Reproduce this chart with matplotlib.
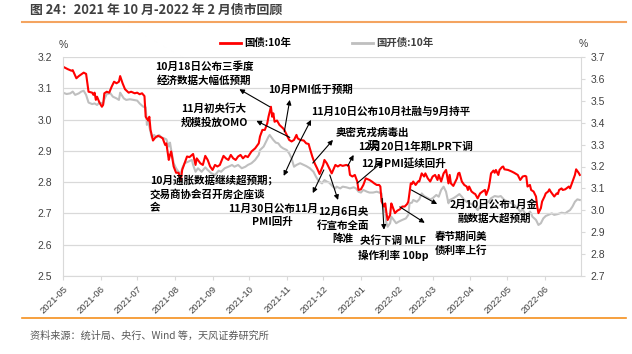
import numpy as np
import pandas as pd
import matplotlib
matplotlib.use('Agg')
import matplotlib.pyplot as plt
from matplotlib.lines import Line2D

plt.rcParams['font.family'] = ['Noto Sans CJK SC', 'DejaVu Sans']

# ---------------- data ----------------
BASE = pd.Timestamp('2021-05-01')   # day offsets below are counted from this date

red_days = [0, 4, 7, 8, 11, 13, 17, 19, 21, 24, 25, 26, 27, 28, 30, 32, 33, 34, 36, 38, 40, 42, 44, 46, 47, 49,
            51, 54, 56, 59, 61, 63, 65, 67, 68, 70, 71, 72, 74, 76, 78, 80, 82, 84, 85, 87, 88, 89, 91, 93, 95,
            97, 98, 100, 102, 104, 107,
            109, 110, 113, 115, 117, 119, 121, 123, 125, 127, 129, 132, 134, 136, 138, 140, 142, 144, 146, 148,
            150, 152, 155, 158, 161, 162, 164, 166, 168, 169, 171, 172, 173, 174, 176, 178, 181, 182, 184, 186,
            188, 190, 192, 193, 195, 198, 200, 202, 203, 205, 207, 209, 211,
            214, 215, 217, 219, 221, 222, 224, 226, 228, 230, 233, 235, 236, 238, 240, 242, 243, 245, 247, 249,
            252, 254, 256, 258, 260, 261, 262, 264, 265, 266, 267, 269, 270, 271, 273, 275, 277, 279, 281, 283,
            284, 286, 287, 288, 290, 292, 293, 295, 297, 298, 300, 302, 304, 306, 308, 309, 311, 313, 315, 317,
            318, 319, 321, 322, 324, 325, 326, 328, 330, 332, 333, 334, 336, 338, 339, 341, 343, 345, 347, 348,
            350, 351, 352, 354, 355, 356, 358, 359, 361, 362, 363, 366, 369, 371, 374, 376, 377, 378, 380, 381,
            382, 384, 385, 387, 389, 390, 391, 393, 394, 396, 397, 399, 400, 401, 403, 404, 406, 407, 408, 410,
            411, 413, 414, 416, 417, 419, 421, 422, 424, 425]
red_vals = [3.169, 3.161, 3.156, 3.158, 3.132, 3.139, 3.150, 3.146, 3.089, 3.086, 3.079, 3.086, 3.063, 3.073,
            3.054, 3.041, 3.047, 3.084, 3.089, 3.086, 3.105, 3.121, 3.116, 3.121, 3.139, 3.116,
            3.097, 3.086, 3.089, 3.084, 3.086, 3.081, 3.084, 3.075, 3.009, 2.997, 3.009, 2.967, 2.933, 2.943,
            2.948, 2.945, 2.940, 2.919, 2.924, 2.871, 2.887, 2.898, 2.850, 2.830, 2.830,
            2.807, 2.839, 2.860, 2.882, 2.880, 2.890,
            2.855, 2.876, 2.860, 2.855, 2.884, 2.871, 2.850, 2.839, 2.855, 2.850, 2.855, 2.884, 2.876, 2.871,
            2.887, 2.876, 2.871, 2.882, 2.887, 2.876,
            2.884, 2.880, 2.898, 2.908, 2.924, 2.946, 2.967, 2.967, 2.988, 3.009, 3.041, 3.009, 3.020, 2.993,
            2.997, 2.983, 2.972, 2.967, 2.951, 2.935,
            2.930, 2.935, 2.951, 2.940, 2.935, 2.933, 2.924, 2.922, 2.908, 2.882, 2.860, 2.844, 2.826,
            2.855, 2.871, 2.860, 2.844, 2.828, 2.837, 2.855, 2.850, 2.855, 2.852, 2.855, 2.852, 2.823, 2.818,
            2.823, 2.802, 2.775, 2.777, 2.791, 2.812,
            2.807, 2.802, 2.796, 2.791, 2.791, 2.786, 2.738, 2.722, 2.732, 2.701, 2.679, 2.695, 2.732, 2.722,
            2.701, 2.709, 2.713, 2.722, 2.722, 2.730,
            2.738, 2.796, 2.794, 2.802, 2.791, 2.802, 2.802, 2.828, 2.818, 2.828, 2.812, 2.802, 2.818, 2.823,
            2.807, 2.823, 2.802, 2.828, 2.839, 2.796,
            2.823, 2.796, 2.788, 2.796, 2.812, 2.828, 2.830, 2.802, 2.791, 2.786, 2.775, 2.786, 2.770, 2.764,
            2.762, 2.748, 2.764, 2.770, 2.775, 2.759,
            2.780, 2.802, 2.828, 2.837, 2.830, 2.839, 2.823, 2.839, 2.848, 2.850, 2.841, 2.839, 2.834, 2.830,
            2.823, 2.807, 2.812, 2.818, 2.820, 2.818,
            2.786, 2.791, 2.775, 2.770, 2.754, 2.722, 2.701, 2.717, 2.738, 2.754, 2.764, 2.770, 2.777, 2.770,
            2.759, 2.754, 2.764, 2.762, 2.775, 2.780,
            2.775, 2.777, 2.780, 2.786, 2.780, 2.802, 2.823, 2.841, 2.830, 2.823]

gray_days = [0, 3, 6, 8, 10, 13, 15, 17, 19, 21, 24, 26, 28, 30, 33, 34, 36, 39, 41, 44, 46, 47, 50, 52, 55,
             58, 61, 63, 66, 68, 69, 70, 71, 73, 75, 77, 79, 81, 83, 85, 87, 88, 89, 91, 93, 95, 97, 98, 100,
             103, 106,
             107, 109, 111, 114, 117, 119, 122, 125, 128, 130, 133, 136, 139, 141, 144, 147, 150, 152, 155, 158,
             161, 162, 165, 167, 169, 170, 171, 173, 175, 177, 179, 181, 184, 186, 188, 190, 192, 195, 198, 200,
             203, 206, 208, 210,
             211, 213, 215, 217, 219, 222, 224, 225, 228, 230, 233, 236, 239, 241, 243, 245, 247, 250, 252, 255,
             258, 260, 262, 263, 265, 266, 267, 269, 270, 272, 274, 276, 279, 282, 284, 285, 287, 288, 291, 293,
             295, 297, 299, 302, 304, 307, 309, 311, 313, 315, 317,
             318, 321, 323, 326, 328, 330, 333, 336, 339, 341, 344, 347, 350, 352, 355, 358, 360, 363, 366, 369,
             371, 374, 376, 378, 380, 382, 384, 385, 386, 389, 391, 393, 395, 397, 399, 402, 404, 407, 410, 413,
             415, 417, 419, 421, 423, 425]
gray_vals = [3.537, 3.531, 3.534, 3.542, 3.527, 3.534, 3.542, 3.546, 3.527, 3.492, 3.485, 3.488, 3.481, 3.492,
             3.488, 3.507, 3.531, 3.534, 3.519, 3.511, 3.504, 3.537, 3.511, 3.504, 3.507,
             3.504, 3.501, 3.488, 3.473, 3.470, 3.390, 3.420, 3.382, 3.333, 3.344, 3.333, 3.344, 3.333, 3.329,
             3.324, 3.291, 3.309, 3.275, 3.215, 3.192, 3.176, 3.169, 3.192, 3.215,
             3.222, 3.230,
             3.207, 3.176, 3.192, 3.176, 3.196, 3.184, 3.169, 3.161, 3.181, 3.176, 3.192, 3.199, 3.207, 3.199,
             3.207, 3.192, 3.199, 3.207, 3.215, 3.230,
             3.253, 3.275, 3.291, 3.313, 3.336, 3.344, 3.336, 3.321, 3.309, 3.306, 3.291, 3.283, 3.275, 3.260,
             3.237, 3.199, 3.207, 3.215, 3.207, 3.202,
             3.192, 3.176, 3.154, 3.135,
             3.131, 3.123, 3.138, 3.131, 3.126, 3.108, 3.100, 3.108, 3.100, 3.108, 3.105, 3.100, 3.105, 3.100,
             3.085, 3.081, 3.093, 3.085, 3.081, 3.081,
             3.085, 3.081, 3.077, 3.017, 2.986, 2.941, 2.925, 2.941, 2.971, 2.956, 2.941, 2.948, 2.956, 2.963,
             2.979, 3.032, 3.035, 3.047, 3.039, 3.050,
             3.077, 3.065, 3.059, 3.050, 3.055, 3.070, 3.062, 3.093, 3.108, 3.085, 3.032,
             3.047, 3.055, 3.062, 3.074, 3.062, 3.047, 3.035, 3.029, 3.017, 3.001, 3.024, 3.032, 3.039, 3.055,
             3.065, 3.062, 3.065, 3.047, 3.039, 3.032,
             3.024, 3.009, 2.994, 3.004, 2.986, 2.979, 2.994, 2.986, 2.971, 2.956, 2.933, 2.941, 2.963, 2.974,
             2.979, 2.986, 2.979, 2.983, 2.989, 2.986,
             2.994, 3.001, 3.017, 3.039, 3.050, 3.047]

month_labels = ['2021-05', '2021-06', '2021-07', '2021-08', '2021-09', '2021-10', '2021-11', '2021-12',
                '2022-01', '2022-02', '2022-03', '2022-04', '2022-05', '2022-06']
left_ticks = [2.5, 2.6, 2.7, 2.8, 2.9, 3.0, 3.1, 3.2]
right_ticks = [2.7, 2.8, 2.9, 3.0, 3.1, 3.2, 3.3, 3.4, 3.5, 3.6, 3.7]

series_names = ['国债:10年', '国开债:10年']

# annotations: text, text position (axes fraction), alignment, arrows (tail day, tail value) -> (head day, head value)
notes = [
    ('10月18日公布三季度\n经济数据大幅低预期', (0.272, 0.925), 'center', [((170, 3.041), (145, 3.097))]),
    ('10月PMI低于预期', (0.396, 0.849), 'left', [((182, 2.961), (186.5, 3.063))]),
    ('11月初央行大\n规模投放OMO', (0.2915, 0.733), 'center', [((186.5, 2.943), (159, 2.996))]),
    ('11月10日公布10月社融与9月持平', (0.479, 0.749), 'left', [((192, 2.909), (204, 2.999))]),
    ('10月通胀数据继续超预期；\n交易商协会召开房企座谈\n会', (0.168, 0.377), 'left', [((192, 2.909), (181.5, 2.820))]),
    ('奥密克戎病毒出\n现', (0.598, 0.625), 'center', [((205.4, 2.861), (222, 2.935))]),
    ('12月20日1年期LPR下调', (0.5695, 0.590), 'left', [((234.2, 2.852), (239, 2.887))]),
    ('12月PMI延续回升', (0.575, 0.514), 'left', [((242, 2.797), (263, 2.866))]),
    ('11月30日公布11月\nPMI回升', (0.405, 0.2785), 'center', [((214.5, 2.839), (205.4, 2.765))]),
    ('12月6日央\n行宣布全面\n降准', (0.5405, 0.2306), 'center', [((219.4, 2.823), (226.2, 2.743))]),
    ('央行下调 MLF\n操作利率 10bp', (0.637, 0.1265), 'center', [((262.5, 2.748), (264, 2.648))]),
    ('春节期间美\n债利率上行', (0.768, 0.1475), 'center', [((277, 2.721), (297.5, 2.670))]),
    ('2月10日公布1月金\n融数据大超预期', (0.832, 0.2936), 'center', [((286.5, 2.775), (307.7, 2.730))]),
]

# ---------------- figure ----------------
W, H = 632, 354
fig = plt.figure(figsize=(W / 100, H / 100), dpi=100)
fig.patch.set_facecolor('white')

def fx(px):
    return px / W

def fy(py):
    return 1 - py / H

ax = fig.add_axes([fx(63), fy(276), 518 / W, 219 / H])
ax2 = ax.twinx()
ax.set_zorder(ax2.get_zorder() + 1)
ax.patch.set_visible(False)

to_date = lambda days: BASE + pd.to_timedelta(days, unit='D')

ax2.plot(to_date(gray_days), gray_vals, color='#bfbfbf', lw=1.5, solid_joinstyle='round')
ax.plot(to_date(red_days), red_vals, color='#ff0000', lw=1.5, solid_joinstyle='round')

ax.set_xlim(BASE, pd.Timestamp('2022-07-01'))
ax.set_ylim(left_ticks[0], left_ticks[-1])
ax2.set_ylim(right_ticks[0], right_ticks[-1])

tick_dates = pd.to_datetime(month_labels)
ax.set_xticks(tick_dates)
ax.set_xticklabels(month_labels, rotation=45, ha='right', va='top', rotation_mode='anchor',
                   fontsize=6.8, color='#404040', family=['Liberation Sans', 'DejaVu Sans'])
ax.tick_params(axis='x', length=3, color='#d9d9d9', pad=3)

ax.set_yticks(left_ticks)
ax.set_yticklabels([f'{v:.1f}' for v in left_ticks], fontsize=7.5, color='#404040',
                   family=['Liberation Sans', 'DejaVu Sans'])
ax.tick_params(axis='y', length=0, pad=8)
ax.grid(axis='y', color='#d9d9d9', lw=0.9)
ax.set_axisbelow(True)

ax2.set_yticks(right_ticks)
ax2.set_yticklabels([f'{v:.1f}' for v in right_ticks], fontsize=7.5, color='#404040',
                    family=['Liberation Sans', 'DejaVu Sans'])
ax2.tick_params(axis='y', length=3, color='#d9d9d9', pad=4)

for a in (ax, ax2):
    for s in a.spines.values():
        s.set_visible(False)
ax.spines['left'].set_visible(True)
ax.spines['left'].set_color('#d9d9d9')
ax.spines['bottom'].set_visible(True)
ax.spines['bottom'].set_color('#d9d9d9')
ax2.spines['right'].set_visible(True)
ax2.spines['right'].set_color('#d9d9d9')

# annotations
for text, (tx, ty), align, arrows in notes:
    ax.text(tx, ty, text, transform=ax.transAxes, ha=align, va='center', multialignment=align,
            fontsize=7.6, fontweight='bold', color='black', linespacing=1.35, zorder=5)
    for (d0, v0), (d1, v1) in arrows:
        ax.annotate('', xy=(to_date(d1), v1), xytext=(to_date(d0), v0),
                    arrowprops=dict(arrowstyle='-|>', color='black', lw=0.8, mutation_scale=7,
                                    shrinkA=0, shrinkB=0), zorder=6)

# unit labels
fig.text(fx(63), fy(45), '%', ha='center', va='center', fontsize=7.5, color='#404040',
         family=['Liberation Sans', 'DejaVu Sans'])
fig.text(fx(583), fy(44), '%', ha='center', va='center', fontsize=7.5, color='#404040',
         family=['Liberation Sans', 'DejaVu Sans'])

# legend
fig.add_artist(Line2D([fx(220), fx(241)], [fy(43), fy(43)], color='#ff0000', lw=2))
fig.text(fx(244), fy(43), series_names[0], ha='left', va='center', fontsize=7.5, fontweight='bold', color='black')
fig.add_artist(Line2D([fx(352), fx(373)], [fy(43), fy(43)], color='#bfbfbf', lw=2))
fig.text(fx(376), fy(43), series_names[1], ha='left', va='center', fontsize=7.5, fontweight='bold', color='#404040')

# header / footer
fig.text(fx(30), fy(10), '图 24：2021 年 10 月-2022 年 2 月债市回顾', ha='left', va='center',
         fontsize=9.3, fontweight='bold', color='#404040')
fig.add_artist(Line2D([fx(22), fx(626)], [fy(22), fy(22)], color='#f4a460', lw=1.5))
fig.add_artist(Line2D([fx(22), fx(626)], [fy(318), fy(318)], color='#f5901e', lw=1.2))
fig.text(fx(30), fy(336), '资料来源：统计局、央行、Wind 等，天风证券研究所', ha='left', va='center',
         fontsize=7.3, color='#595959')

fig.savefig('out.png', dpi=100, facecolor='white')
